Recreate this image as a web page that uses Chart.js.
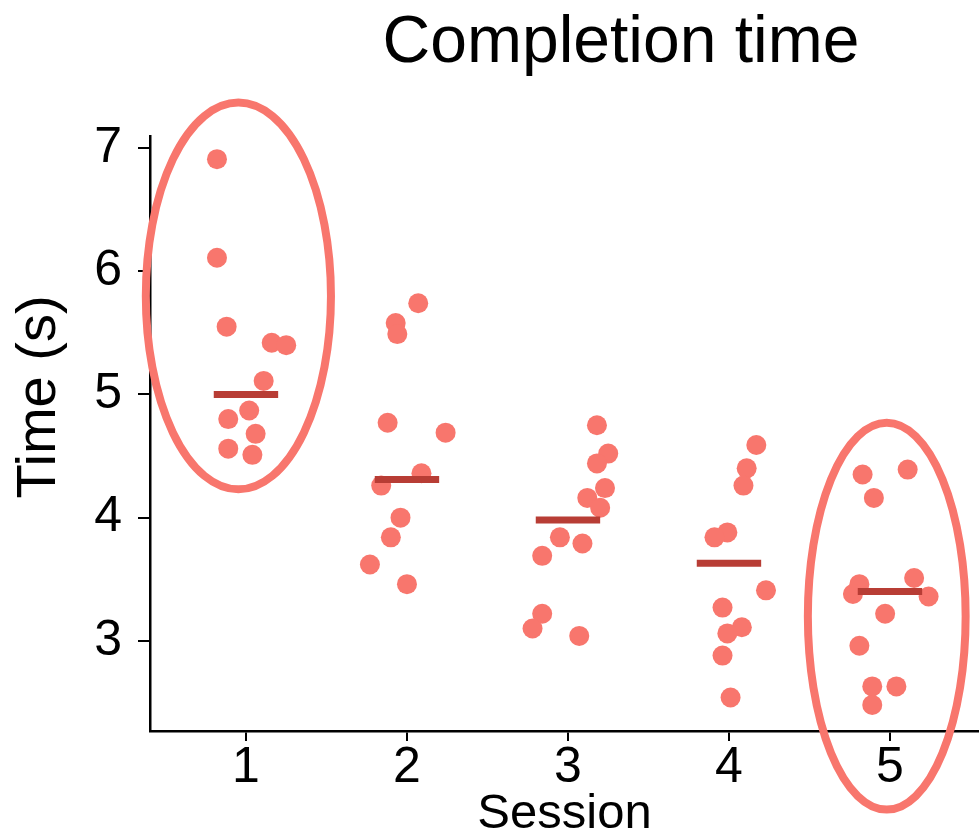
<!DOCTYPE html>
<html><head><meta charset="utf-8">
<script src="https://cdn.jsdelivr.net/npm/chart.js@4.4.0/dist/chart.umd.min.js"></script>
<style>html,body{margin:0;padding:0;background:#fff}#wrap{width:979px;height:839px;position:relative}</style>
</head><body><div id="wrap"><canvas id="c" width="979" height="839"></canvas></div>
<script>
const chartTitle = 'Completion time';
const xAxisTitle = 'Session';
const yAxisTitle = 'Time (s)';
const sessions = [1, 2, 3, 4, 5];
const tickLabels = ['1', '2', '3', '4', '5'];
const yTicks = [3, 4, 5, 6, 7];

const session1Times = [6.91, 6.11, 5.55, 5.42, 5.40, 5.11, 4.87, 4.80, 4.68, 4.56, 4.51];
const session1Jitter = [-0.18, -0.18, -0.12, 0.16, 0.25, 0.11, 0.02, -0.11, 0.06, -0.11, 0.04];
const session2Times = [5.74, 5.58, 5.49, 4.77, 4.69, 4.36, 4.26, 4.00, 3.84, 3.62, 3.46];
const session2Jitter = [0.07, -0.07, -0.06, -0.12, 0.24, 0.09, -0.16, -0.04, -0.10, -0.23, 0.00];
const session3Times = [4.75, 4.52, 4.44, 4.24, 4.16, 4.08, 3.84, 3.79, 3.69, 3.22, 3.10, 3.04];
const session3Jitter = [0.18, 0.25, 0.18, 0.23, 0.12, 0.20, -0.05, 0.09, -0.16, -0.16, -0.22, 0.07];
const session4Times = [4.59, 4.40, 4.26, 3.88, 3.84, 3.41, 3.27, 3.11, 3.06, 2.88, 2.54];
const session4Jitter = [0.17, 0.11, 0.09, -0.01, -0.09, 0.23, -0.04, 0.08, -0.01, -0.04, 0.01];
const session5Times = [4.39, 4.35, 4.16, 3.51, 3.46, 3.38, 3.36, 3.22, 2.96, 2.63, 2.63, 2.48];
const session5Jitter = [0.11, -0.17, -0.10, 0.15, -0.19, -0.23, 0.24, -0.03, -0.19, -0.11, 0.04, -0.11];
const sessionMeans = [5.00, 4.31, 3.98, 3.63, 3.40];

// highlighted sessions (ellipses), in data units
const ellipseCenterX = [0.953, 4.98];
const ellipseCenterY = [5.80, 3.20];
const ellipseRadiusX = [0.575, 0.49];
const ellipseRadiusY = [1.57, 1.57];

const allTimes = [session1Times, session2Times, session3Times, session4Times, session5Times];
const allJitter = [session1Jitter, session2Jitter, session3Jitter, session4Jitter, session5Jitter];

const pointColor = '#F8766D';
const meanColor = '#B83D35';
const font = '"Liberation Sans", Arial, sans-serif';

const points = [];
sessions.forEach((s, i) => {
  allTimes[i].forEach((t, j) => points.push({x: s + allJitter[i][j], y: t}));
});

const datasets = [{
  type: 'scatter',
  data: points,
  pointRadius: 10,
  pointHoverRadius: 10,
  pointBackgroundColor: pointColor,
  pointBorderWidth: 0,
  order: 2
}];
sessions.forEach((s, i) => {
  datasets.push({
    type: 'line',
    data: [{x: s - 0.2, y: sessionMeans[i]}, {x: s + 0.2, y: sessionMeans[i]}],
    borderColor: meanColor,
    borderWidth: 7,
    pointRadius: 0,
    borderCapStyle: 'butt',
    order: 1
  });
});

const ellipsePlugin = {
  id: 'ellipses',
  afterDatasetsDraw(chart) {
    const {ctx, scales: {x, y}} = chart;
    ctx.save();
    ctx.strokeStyle = pointColor;
    ctx.lineWidth = 8;
    ellipseCenterX.forEach((cx, i) => {
      const px = x.getPixelForValue(cx);
      const py = y.getPixelForValue(ellipseCenterY[i]);
      const rx = Math.abs(x.getPixelForValue(cx + ellipseRadiusX[i]) - px);
      const ry = Math.abs(y.getPixelForValue(ellipseCenterY[i] + ellipseRadiusY[i]) - py);
      ctx.beginPath();
      ctx.ellipse(px, py, rx, ry, 0, 0, Math.PI * 2);
      ctx.stroke();
    });
    ctx.restore();
  }
};

const titlePlugin = {
  id: 'titles',
  afterDraw(chart) {
    const ctx = chart.ctx;
    ctx.save();
    ctx.fillStyle = '#000';
    ctx.font = '66px ' + font;
    ctx.textAlign = 'center';
    ctx.textBaseline = 'alphabetic';
    ctx.fillText(chartTitle, 621, 62);
    ctx.translate(40, 397);
    ctx.rotate(-Math.PI / 2);
    ctx.font = '56px ' + font;
    ctx.textBaseline = 'middle';
    ctx.fillText(yAxisTitle, 0, 0);
    ctx.restore();
  }
};

new Chart(document.getElementById('c'), {
  data: {datasets},
  plugins: [ellipsePlugin, titlePlugin],
  options: {
    responsive: false,
    devicePixelRatio: 1,
    animation: false,
    layout: {autoPadding: false, padding: {top: 136, right: 0, left: 0, bottom: 0}},
    plugins: {legend: {display: false}, tooltip: {enabled: false}, title: {display: false}},
    scales: {
      x: {
        type: 'linear',
        min: 0.404, max: 5.553,
        afterBuildTicks: s => { s.ticks = sessions.map(v => ({value: v})); },
        afterFit: s => { s.height = 108; s.paddingLeft = 0; s.paddingRight = 0; },
        ticks: {
          callback: v => tickLabels[sessions.indexOf(v)],
          font: {family: font, size: 50}, color: '#000', padding: -3,
          maxRotation: 0, autoSkip: false
        },
        grid: {display: true, drawOnChartArea: false, drawTicks: true, tickLength: 10, color: '#000', lineWidth: 2},
        border: {display: true, color: '#000', width: 2.5},
        title: {display: true, text: xAxisTitle, font: {family: font, size: 49, lineHeight: 1}, color: '#000', padding: {top: 0, bottom: 0}}
      },
      y: {
        type: 'linear',
        min: 2.268, max: 7.098,
        afterBuildTicks: s => { s.ticks = yTicks.map(v => ({value: v})); },
        afterFit: s => { s.width = 150; s.paddingTop = 0; s.paddingBottom = 0; },
        ticks: {font: {family: font, size: 50}, color: '#000', padding: 16},
        grid: {display: true, drawOnChartArea: false, drawTicks: true, tickLength: 12, color: '#000', lineWidth: 2},
        border: {display: true, color: '#000', width: 2.5},
        title: {display: false}
      }
    }
  }
});
</script></body></html>
